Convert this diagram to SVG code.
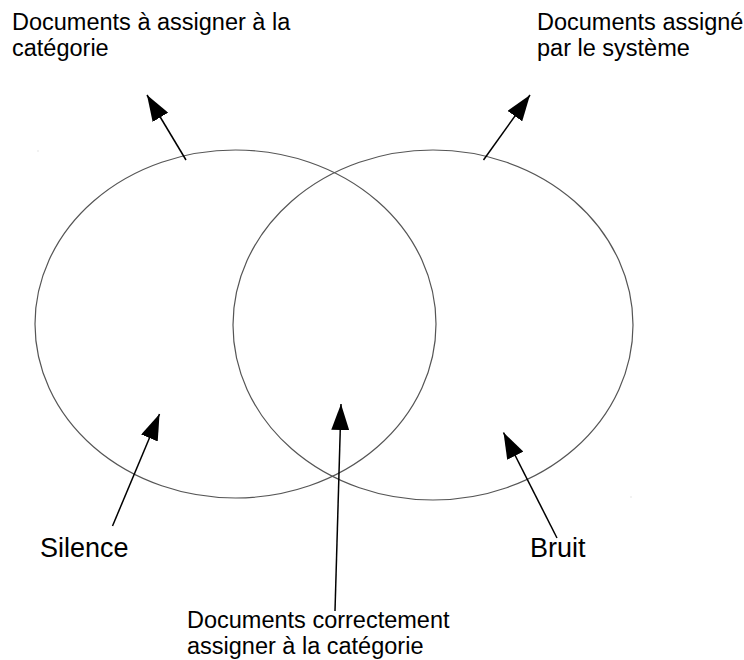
<svg xmlns="http://www.w3.org/2000/svg" width="744" height="660" viewBox="0 0 744 660">
  <style>
    .set { fill: none; stroke: #555; stroke-width: 1.2; }
    .conn { stroke: #000; stroke-width: 1.5; fill: none; }
    .label { font-family: "Liberation Sans", Arial, sans-serif; fill: #000; }
    .small { font-size: 23.5px; }
    .big { font-size: 27px; }
  </style>
  <defs>
    <marker id="head" viewBox="0 0 26 18" refX="26" refY="9" markerWidth="26" markerHeight="18" markerUnits="userSpaceOnUse" orient="auto">
      <path d="M0,0 L26,9 L0,18 Z" fill="#000"/>
    </marker>
  </defs>
  <rect width="744" height="660" fill="#fff"/>

  <g id="set-assigner">
    <ellipse class="set" cx="235.5" cy="324" rx="200.5" ry="174"/>
  </g>
  <g id="set-systeme">
    <ellipse class="set" cx="433" cy="325" rx="200" ry="175"/>
  </g>
  <rect x="37.5" y="150.5" width="1" height="1" fill="#ccc"/>
  <rect x="630.5" y="496.5" width="1" height="1" fill="#ccc"/>

  <g id="connectors">
    <line class="conn" x1="186" y1="160" x2="147" y2="95" marker-end="url(#head)"/>
    <line class="conn" x1="483.5" y1="160" x2="530" y2="95" marker-end="url(#head)"/>
    <line class="conn" x1="112.5" y1="526" x2="159.5" y2="414" marker-end="url(#head)"/>
    <line class="conn" x1="335" y1="611" x2="341" y2="404" marker-end="url(#head)"/>
    <line class="conn" x1="557" y1="538" x2="503.5" y2="432.5" marker-end="url(#head)"/>
  </g>

  <g id="label-assigner">
    <text class="label small" x="12" y="30">Documents à assigner à la</text>
    <text class="label small" x="12" y="56">catégorie</text>
  </g>
  <g id="label-systeme">
    <text class="label small" x="537" y="30">Documents assigné</text>
    <text class="label small" x="537" y="56">par le système</text>
  </g>
  <g id="label-silence">
    <text class="label big" x="40" y="557">Silence</text>
  </g>
  <g id="label-bruit">
    <text class="label big" x="530" y="557">Bruit</text>
  </g>
  <g id="label-correct">
    <text class="label small" x="187" y="628">Documents correctement</text>
    <text class="label small" x="187" y="654">assigner à la catégorie</text>
  </g>
</svg>
